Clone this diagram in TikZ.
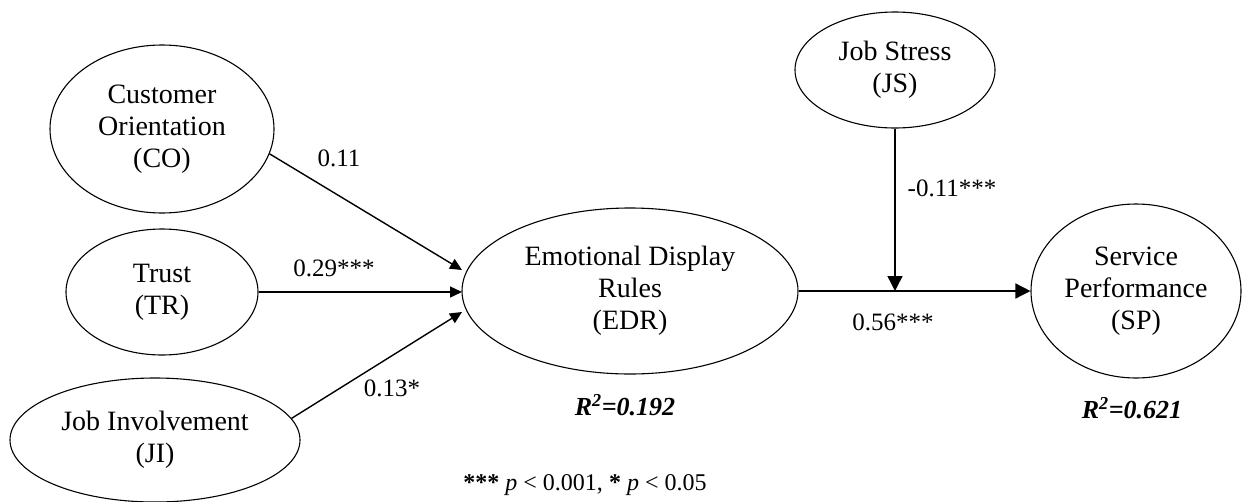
\documentclass[tikz,border=0pt]{standalone}
\usepackage{fontspec}
\setmainfont{Liberation Serif}
\usetikzlibrary{shapes.geometric,arrows.meta}
\begin{document}
\begin{tikzpicture}[x=1pt,y=-1pt,
  lat/.style={draw, ellipse, line width=1.1pt, inner sep=0pt, align=center, font=\fontsize{28}{32}\selectfont},
  arr/.style={line width=1.4pt, -{Triangle[length=15pt,width=15pt]}},
  arrs/.style={line width=1.4pt, -{Triangle[length=12pt,width=11pt]}},
  lbl/.style={font=\fontsize{25}{28}\selectfont, inner sep=0pt},
  rsq/.style={font=\fontsize{26}{28}\selectfont\bfseries\itshape, inner sep=0pt},
  note/.style={font=\fontsize{24}{28}\selectfont, inner sep=0pt}]
\useasboundingbox (0,0) rectangle (1245,501);
\node[lat, minimum width=224pt, minimum height=168pt] (co) at (162,129) {Customer\\Orientation\\(CO)};
\node[lat, minimum width=192pt, minimum height=126pt] (tr) at (162,292) {Trust\\(TR)};
\node[lat, minimum width=290pt, minimum height=124pt] (ji) at (155,440) {Job Involvement\\(JI)};
\node[lat, minimum width=336pt, minimum height=166pt] (edr) at (630,291) {Emotional Display\\Rules\\(EDR)};
\node[lat, minimum width=200pt, minimum height=116pt] (js) at (895,70) {Job Stress\\(JS)};
\node[lat, minimum width=210pt, minimum height=174pt] (sp) at (1136,291) {Service\\Performance\\(SP)};
\coordinate (e1) at (462,270);
\coordinate (e2) at (462,292);
\coordinate (e3) at (462,312);
\coordinate (m) at (895,291);
\draw[arrs] (co.-13) -- (e1);
\draw[arrs] (tr) -- (e2);
\draw[arrs] (ji.9) -- (e3);
\draw[arr] (edr) -- (sp);
\draw[arr] (js) -- (m);
\node[lbl] (l1) at (339,158) {0.11};
\node[lbl] (l2) at (334,268) {0.29***};
\node[lbl] (l3) at (392,388) {0.13*};
\node[lbl] (l4) at (952,188) {-0.11***};
\node[lbl] (l5) at (893,322) {0.56***};
\node[rsq] (r1) at (625,405) {R\textsuperscript{2}=0.192};
\node[rsq] (r2) at (1132,408) {R\textsuperscript{2}=0.621};
\node[note] (fn) at (585,485) {{\bfseries ***} \textit{p} < 0.001, {\bfseries *} \textit{p} < 0.05};
\end{tikzpicture}
\end{document}
